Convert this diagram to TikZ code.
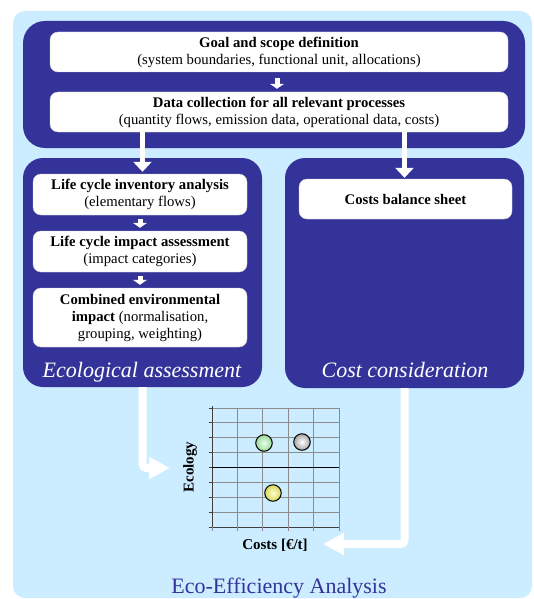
\documentclass[tikz,border=0pt]{standalone}
\usepackage{fontspec}
\setmainfont{Liberation Serif}
\usetikzlibrary{arrows.meta,calc}
\definecolor{bgblue}{RGB}{204,236,255}
\definecolor{darkblue}{RGB}{51,51,153}
\definecolor{gridgray}{RGB}{140,140,140}
\begin{document}
\begin{tikzpicture}[x=1pt,y=-1pt,
  block/.style={fill=darkblue, rounded corners=20pt, inner sep=0pt},
  wbox/.style={fill=white, draw=gray!35, line width=0.4pt, rounded corners=8pt, align=center, inner sep=0pt, font=\fontsize{14.7}{17}\selectfont},
  bigarrow/.style={draw=white, line width=5pt, -{Triangle[width=18pt,length=10pt]}},
  smallarrow/.style={draw=white, line width=5pt, -{Triangle[width=14pt,length=5pt]}},
  flowarrow/.style={draw=white, line width=8pt, rounded corners=4pt, -{Triangle[width=21pt,length=21pt]}},
  blocklabel/.style={text=white, font=\fontsize{22}{26}\selectfont\itshape, anchor=base, inner sep=0pt},
  axislabel/.style={font=\fontsize{15}{17}\selectfont\bfseries, inner sep=0pt},
  ball/.style={circle, draw=black, line width=1pt, minimum size=16.5pt, inner sep=0pt}
]
\useasboundingbox (0,0) rectangle (533,599);
% background
\path[fill=bgblue, rounded corners=12pt] (13,11) rectangle (532,598);

% blocks
\node[block, rounded corners=22pt, minimum width=502pt, minimum height=127pt] (top) at (274,84.5) {};
\node[block, minimum width=239pt, minimum height=229pt] (lblock) at (142.5,272.5) {};
\node[block, minimum width=239pt, minimum height=230pt] (rblock) at (404.5,273) {};

% boxes
\node[wbox, minimum width=458pt, minimum height=40pt] (goal) at (279,52)
  {\textbf{Goal and scope definition}\\(system boundaries, functional unit, allocations)};
\node[wbox, minimum width=458pt, minimum height=40pt] (data) at (279,112)
  {\textbf{Data collection for all relevant processes}\\(quantity flows, emission data, operational data, costs)};
\node[wbox, minimum width=214pt, minimum height=41pt] (lci) at (140,194.5)
  {\textbf{Life cycle inventory analysis}\\(elementary flows)};
\node[wbox, minimum width=214pt, minimum height=41pt] (lcia) at (140,251.5)
  {\textbf{Life cycle impact assessment}\\(impact categories)};
\node[wbox, minimum width=214pt, minimum height=59pt] (cei) at (140,317.5)
  {\textbf{Combined environmental}\\\textbf{impact} (normalisation,\\grouping, weighting)};
\node[wbox, minimum width=213pt, minimum height=40pt] (costs) at (405.5,199)
  {\textbf{Costs balance sheet}};

% arrows inside
\draw[smallarrow] ($(goal.south)+(-2,6)$) -- ($(data.north)+(-2,-3)$);
\draw[bigarrow] (data.south -| lblock.north) -- ($(lci.north -| lblock.north)+(0,-2)$);
\draw[bigarrow] (data.south -| rblock.north) -- ($(costs.north -| rblock.north)+(0,-1)$);
\draw[smallarrow] ($(lci.south)+(0,4)$) -- ($(lcia.north)+(0,-3)$);
\draw[smallarrow] ($(lcia.south)+(0,4)$) -- ($(cei.north)+(0,-3)$);

% block labels
\node[blocklabel] (ecolab) at (142,377) {Ecological assessment};
\node[blocklabel] (costlab) at (405,377) {Cost consideration};

% chart
\foreach \i in {1,...,4} {
  \draw[gridgray, line width=0.9pt] ({212+25.4*\i},408) -- ({212+25.4*\i},527);
}
\foreach \j in {1,...,7} {
  \draw[gridgray, line width=0.9pt] (212,{408+14.875*\j}) -- (339,{408+14.875*\j});
}
\draw[gridgray, line width=0.9pt] (212,408) -- (339,408) -- (339,527);
\draw[black!75, line width=1pt] (212,406) -- (212,527) -- (339,527);
\foreach \j in {0,...,8} {
  \draw[black!75, line width=0.8pt] (208.5,{408+14.875*\j}) -- (212,{408+14.875*\j});
}
\foreach \i in {0,...,5} {
  \draw[gridgray, line width=0.8pt] ({212+25.4*\i},527) -- ({212+25.4*\i},530.5);
}
\draw[black, line width=1.3pt] (212,467.5) -- (339,467.5);

\node[ball, inner color=green!8!white, outer color=green!45!gray!55!white] (bgreen) at (264,443) {};
\node[ball, inner color=white, outer color=gray!70] (bwhite) at (302,442) {};
\node[ball, inner color=yellow!20!white, outer color=yellow!60!gray!80!white] (byellow) at (273,493) {};

\node[axislabel, rotate=90] (ecol) at (190,467) {Ecology};
\node[axislabel] (costax) at (275,545) {Costs [€/t]};

% flow arrows
\coordinate (ltip) at (170,468);
\coordinate (rtip) at (323,544);
\draw[flowarrow] (lblock.south) -- (lblock.south |- ltip) -- (ltip);
\draw[flowarrow] (rblock.south) -- (rblock.south |- rtip) -- (rtip);

% title
\node[anchor=base, text=darkblue, font=\fontsize{22}{26}\selectfont, inner sep=0pt] (title) at (279,593.5) {Eco-Efficiency Analysis};
\end{tikzpicture}
\end{document}
